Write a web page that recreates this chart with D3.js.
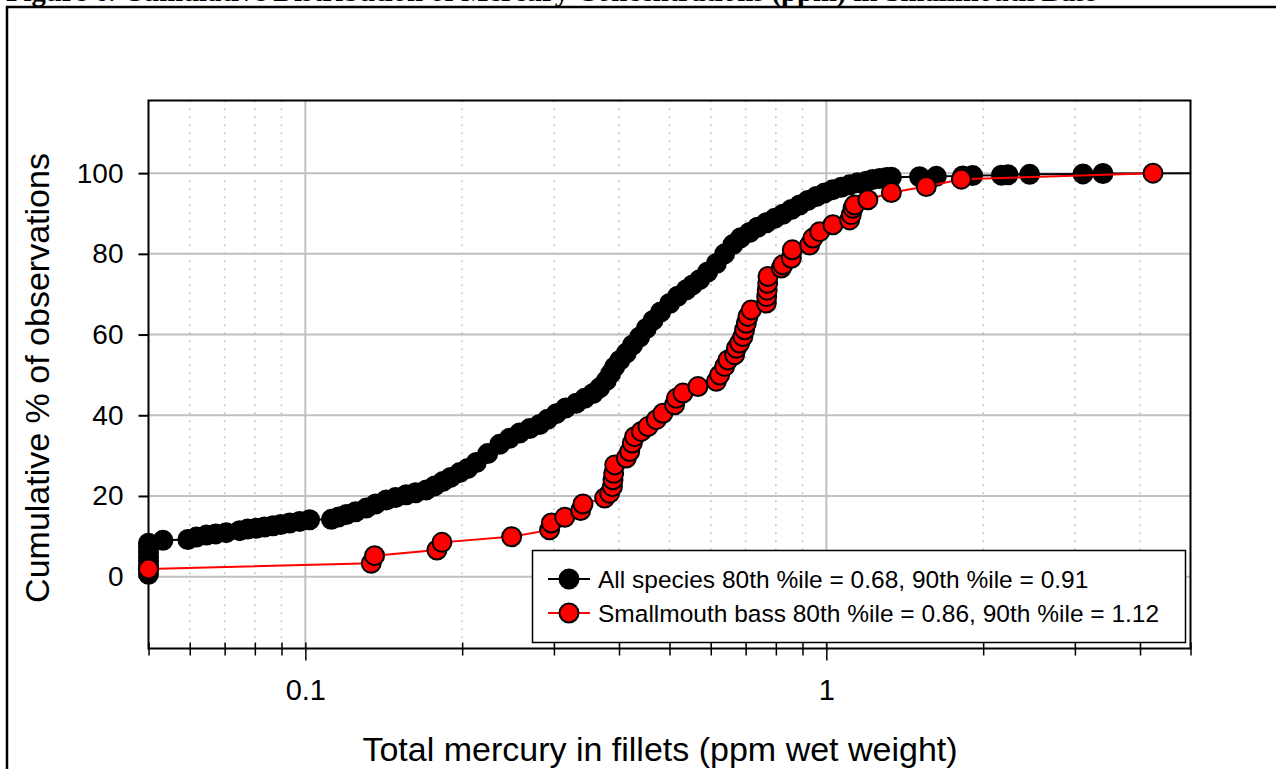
<!DOCTYPE html>
<html>
<head>
<meta charset="utf-8">
<script src="https://cdn.jsdelivr.net/npm/d3@7"></script>
<style>
	body { margin: 0; background: #fff; }
	svg { display: block; }
</style>
</head>
<body>
<svg id="chart" width="1276" height="769"></svg>
<script>
// Data
var titleText = "Figure 6. Cumulative Distribution of Mercury Concentrations (ppm) in Smallmouth Bass";

// [ppm, cumulative %]
var allSpecies = [
	[0.05,0.6],[0.05,1.7],[0.05,2.8],[0.05,3.9],[0.05,5.0],[0.05,6.1],[0.05,7.2],[0.05,8.3],
	[0.0533,9.0],[0.0595,9.2],[0.0618,9.8],[0.0646,10.3],[0.0673,10.6],[0.0705,10.9],[0.0748,11.4],
	[0.0775,11.8],[0.0805,12.0],[0.0835,12.3],[0.0867,12.6],[0.0897,12.9],[0.0933,13.3],[0.0975,13.7],
	[0.1019,14.1],[0.1122,14.2],[0.1159,14.8],[0.1199,15.4],[0.1249,16.1],[0.1309,17.0],[0.1364,18.0],
	[0.1430,19.0],[0.1490,19.6],[0.1562,20.3],[0.1628,20.8],[0.1707,21.5],[0.1771,22.5],[0.1837,23.6],
	[0.1900,24.6],[0.1978,25.8],[0.2049,26.8],[0.2129,28.3],[0.2239,30.5],[0.2360,32.8],[0.2466,34.3],
	[0.2578,35.6],[0.2695,36.7],[0.2816,37.7],[0.2918,39.0],[0.3032,40.4],[0.3160,41.8],[0.3313,43.0],
	[0.3437,44.2],[0.3565,45.4],[0.3672,46.8],[0.3782,48.6],[0.3855,50.3],[0.3924,52.0],[0.4012,53.6],
	[0.4131,55.4],[0.4247,57.4],[0.4382,59.4],[0.4513,61.5],[0.4648,63.5],[0.4808,65.6],[0.5002,67.7],
	[0.5183,69.5],[0.5386,71.1],[0.5537,72.3],[0.5712,73.6],[0.5918,75.5],[0.6150,77.6],[0.6379,80.0],
	[0.6617,82.3],[0.6847,84.0],[0.7121,85.3],[0.7380,86.6],[0.7672,87.7],[0.7960,88.8],[0.8254,89.8],
	[0.8567,91.0],[0.8887,92.1],[0.9207,93.2],[0.9568,94.2],[0.9925,95.1],[1.0296,95.9],[1.0685,96.5],
	[1.1084,97.1],[1.1483,97.6],[1.1933,98.0],[1.2271,98.4],[1.2659,98.7],[1.3055,98.9],[1.3330,99.0],
	[1.510,99.1],[1.626,99.2],[1.827,99.3],[1.909,99.4],[2.168,99.5],[2.232,99.6],[2.456,99.7],
	[3.109,99.8],[3.396,99.9],[6.0,100]
];

var smallmouth = [
	[0.050,1.9],[0.1338,3.3],[0.1358,5.2],[0.1789,6.6],[0.1829,8.5],[0.2489,9.9],[0.2943,11.6],
	[0.2966,13.3],[0.3147,14.7],[0.3376,16.4],[0.3411,18.0],[0.3754,19.5],[0.3838,20.7],[0.3885,22.3],
	[0.3895,24.0],[0.3907,25.6],[0.3925,27.7],[0.4131,29.4],[0.4193,31.0],[0.4242,33.1],[0.4286,34.7],
	[0.4415,36.0],[0.4546,37.2],[0.4717,38.9],[0.4857,40.5],[0.5114,42.6],[0.5153,44.2],[0.5306,45.5],
	[0.5669,47.1],[0.6150,48.4],[0.6240,50.0],[0.6379,52.1],[0.6474,53.7],[0.6668,55.0],[0.6719,56.6],
	[0.6818,57.9],[0.6916,59.5],[0.6969,61.2],[0.7021,62.8],[0.7071,64.5],[0.7178,66.1],[0.7672,67.8],
	[0.7683,69.4],[0.7700,71.0],[0.7716,72.7],[0.7727,74.4],[0.8195,76.5],[0.8254,77.3],[0.8567,78.9],
	[0.8605,81.0],[0.9288,82.2],[0.9425,83.9],[0.9707,85.5],[1.0296,87.2],[1.1084,88.4],[1.1167,89.7],
	[1.1248,91.3],[1.1331,92.1],[1.2016,93.4],[1.3330,95.2],[1.5556,96.7],[1.8159,98.5],[4.2363,100]
];

var legendLabels = [
	"All species 80th %ile = 0.68, 90th %ile = 0.91",
	"Smallmouth bass 80th %ile = 0.86, 90th %ile = 1.12"
];

var xMajorTicks = [0.1, 1];
var xMinorTicks = [0.05, 0.06, 0.07, 0.08, 0.09, 0.2, 0.3, 0.4, 0.5, 0.6, 0.7, 0.8, 0.9, 2, 3, 4, 5];
var yTicks = [0, 20, 40, 60, 80, 100];
var xTitle = "Total mercury in fillets (ppm wet weight)";
var yTitle = "Cumulative % of observations";

(function () {
	// Layout
	var pLeft = 148.5, pRight = 1190.5, pTop = 100.5, pBottom = 648.5;
	var sans = "'Liberation Sans', Arial, sans-serif";
	var gridColor = "#c0c0c0";
	var dotR = 9.5;

	var svg = d3.select("#chart");

	var x = d3.scaleLog().domain([0.05, 5]).range([pLeft, pRight]);
	var y = d3.scaleLinear().domain([-17.8, 118]).range([pBottom, pTop]);

	// outer frame and cut-off caption
	svg.append("rect")
		.attr("x", 7).attr("y", 7)
		.attr("width", 1400).attr("height", 900)
		.attr("fill", "none").attr("stroke", "#000").attr("stroke-width", 2.5);

	svg.append("text")
		.attr("x", 6).attr("y", 1)
		.attr("font-family", "'Liberation Serif', 'Times New Roman', serif")
		.attr("font-weight", "bold")
		.attr("font-size", 28.7)
		.text(titleText);

	// grid
	var grid = svg.append("g");

	grid.selectAll(".minor")
		.data(xMinorTicks)
		.enter().append("line")
		.attr("x1", function (d) { return x(d); })
		.attr("x2", function (d) { return x(d); })
		.attr("y1", pTop).attr("y2", pBottom)
		.attr("stroke", "#b4b4b4")
		.attr("stroke-width", 1.5)
		.attr("stroke-dasharray", "1.5,6.5");

	grid.selectAll(".majorx")
		.data(xMajorTicks)
		.enter().append("line")
		.attr("x1", function (d) { return x(d); })
		.attr("x2", function (d) { return x(d); })
		.attr("y1", pTop).attr("y2", pBottom)
		.attr("stroke", gridColor)
		.attr("stroke-width", 2);

	grid.selectAll(".majory")
		.data(yTicks)
		.enter().append("line")
		.attr("x1", pLeft).attr("x2", pRight)
		.attr("y1", function (d) { return y(d); })
		.attr("y2", function (d) { return y(d); })
		.attr("stroke", gridColor)
		.attr("stroke-width", 2);

	// axes
	var xMinorAxis = svg.append("g")
		.attr("transform", "translate(0," + pBottom + ")")
		.call(d3.axisBottom(x).tickValues(xMinorTicks).tickSize(7).tickFormat(""));
	xMinorAxis.selectAll(".tick line").attr("y1", -6).attr("stroke-width", 1.5);

	var xMajorAxis = svg.append("g")
		.attr("transform", "translate(0," + pBottom + ")")
		.call(d3.axisBottom(x).tickValues(xMajorTicks).tickSize(12).tickPadding(19)
			.tickFormat(function (d) { return d3.format("~g")(d); }));
	xMajorAxis.selectAll(".tick line").attr("y1", -6).attr("stroke-width", 1.5);
	xMajorAxis.selectAll(".tick text").attr("font-size", 29);

	var yAxis = svg.append("g")
		.attr("transform", "translate(" + pLeft + ",0)")
		.call(d3.axisLeft(y).tickValues(yTicks).tickSize(10).tickPadding(15));
	yAxis.selectAll(".tick line").attr("stroke-width", 2);
	yAxis.selectAll(".tick text").attr("font-size", 28);

	svg.selectAll(".domain").remove();
	svg.selectAll(".tick text")
		.attr("font-family", sans)
		.attr("fill", "#000");

	svg.append("rect")
		.attr("x", pLeft).attr("y", pTop)
		.attr("width", pRight - pLeft).attr("height", pBottom - pTop)
		.attr("fill", "none").attr("stroke", "#000").attr("stroke-width", 2);

	svg.append("text")
		.attr("x", 660).attr("y", 761)
		.attr("text-anchor", "middle")
		.attr("font-family", sans)
		.attr("font-size", 34)
		.text(xTitle);

	svg.append("text")
		.attr("transform", "translate(49,378) rotate(-90)")
		.attr("text-anchor", "middle")
		.attr("font-family", sans)
		.attr("font-size", 34)
		.text(yTitle);

	// series
	svg.append("clipPath").attr("id", "plotClip")
		.append("rect")
		.attr("x", pLeft).attr("y", pTop)
		.attr("width", pRight - pLeft).attr("height", pBottom - pTop);

	var line = d3.line()
		.x(function (d) { return x(d[0]); })
		.y(function (d) { return y(d[1]); });

	function inDomain(d) {
		return d[0] >= 0.05 && d[0] <= 5;
	}

	function drawSeries(data, lineColor, fill) {
		var g = svg.append("g");
		g.append("path")
			.datum(data)
			.attr("clip-path", "url(#plotClip)")
			.attr("d", line)
			.attr("fill", "none")
			.attr("stroke", lineColor)
			.attr("stroke-width", 2);
		g.selectAll("circle")
			.data(data.filter(inDomain))
			.enter().append("circle")
			.attr("cx", function (d) { return x(d[0]); })
			.attr("cy", function (d) { return y(d[1]); })
			.attr("r", dotR)
			.attr("fill", fill)
			.attr("stroke", "#000")
			.attr("stroke-width", 2);
	}

	drawSeries(allSpecies, "#000", "#000");
	drawSeries(smallmouth, "#ff0000", "#ff0000");

	// legend
	var legend = svg.append("g");
	legend.append("rect")
		.attr("x", 532.5).attr("y", 550.5)
		.attr("width", 653).attr("height", 92)
		.attr("fill", "#fff").attr("stroke", "#000").attr("stroke-width", 1.5);

	var legendColors = ["#000", "#ff0000"];
	legendLabels.forEach(function (label, i) {
		var ly = 579 + i * 34;
		legend.append("line")
			.attr("x1", 548).attr("x2", 590)
			.attr("y1", ly).attr("y2", ly)
			.attr("stroke", legendColors[i]).attr("stroke-width", 2);
		legend.append("circle")
			.attr("cx", 569).attr("cy", ly).attr("r", dotR)
			.attr("fill", legendColors[i])
			.attr("stroke", "#000").attr("stroke-width", 2);
		legend.append("text")
			.attr("x", 598).attr("y", ly)
			.attr("dy", "0.36em")
			.attr("font-family", sans)
			.attr("font-size", 24.5)
			.text(label);
	});
})();
</script>
</body>
</html>
